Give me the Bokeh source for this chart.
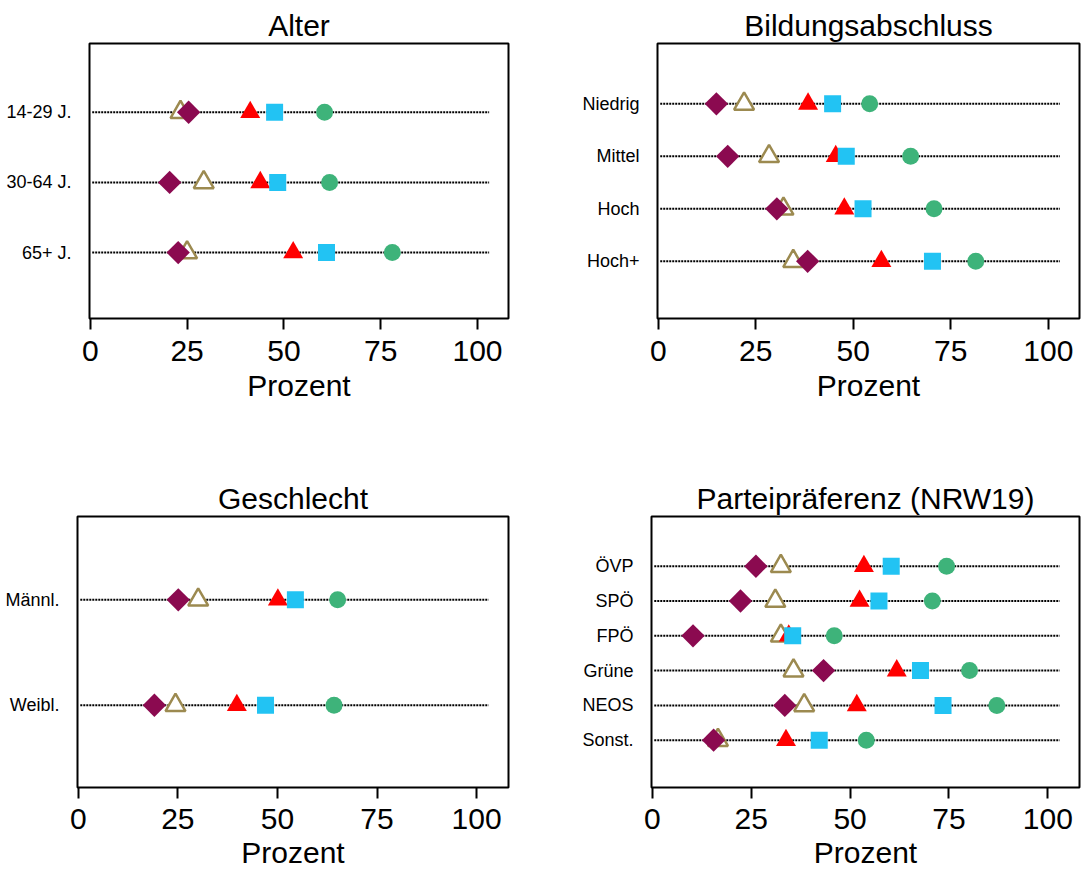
import math
from bokeh.plotting import figure
from bokeh.layouts import column, row
from bokeh.models import FixedTicker
from bokeh.embed import file_html
from bokeh.resources import INLINE

# ---------------- data ----------------
alter_cats = ["14-29 J.", "30-64 J.", "65+ J."]
alter_diamond = [25.4, 20.5, 22.7]
alter_open_tri = [23.3, 29.3, 25.0]
alter_red_tri = [41.3, 43.9, 52.4]
alter_square = [47.6, 48.4, 61.0]
alter_circle = [60.5, 61.8, 78.0]

bildung_cats = ["Niedrig", "Mittel", "Hoch", "Hoch+"]
bildung_diamond = [14.9, 17.8, 30.4, 38.3]
bildung_open_tri = [22.0, 28.4, 32.1, 34.6]
bildung_red_tri = [38.4, 45.5, 47.7, 57.2]
bildung_square = [44.7, 48.2, 52.5, 70.3]
bildung_circle = [54.2, 64.7, 70.7, 81.4]

geschlecht_cats = ["Männl.", "Weibl."]
geschlecht_diamond = [25.1, 19.1]
geschlecht_open_tri = [30.1, 24.4]
geschlecht_red_tri = [50.1, 39.8]
geschlecht_square = [54.5, 47.0]
geschlecht_circle = [65.1, 64.2]

partei_cats = ["ÖVP", "SPÖ", "FPÖ", "Grüne", "NEOS", "Sonst."]
partei_diamond = [26.2, 22.3, 10.3, 43.3, 33.5, 15.5]
partei_open_tri = [32.5, 31.1, 32.5, 35.7, 38.4, 16.6]
partei_red_tri = [53.5, 52.4, 34.5, 61.8, 51.7, 33.8]
partei_square = [60.4, 57.3, 35.5, 67.8, 73.5, 42.2]
partei_circle = [74.4, 70.8, 46.0, 80.2, 87.1, 54.1]

x_ticks = [0, 25, 50, 75, 100]

# ---------------- style ----------------
FONT = "Liberation Sans"
PURPLE = "#8B0A50"
OLIVE = "#9C8A50"
RED = "#FF0000"
CYAN = "#22C3F3"
GREEN = "#3EB37A"
X_RANGE = (-0.2, 108.0)
LINE_START, LINE_END = 0.5, 103.0


def make_panel(title, cats, diamond, open_tri, red_tri, square, circle,
               frame_w, frame_h, b_left, b_right, b_top, b_bottom, y_range,
               tick_standoff, label_standoff):
    n = len(cats)
    ypos = [n - i for i in range(n)]
    p = figure(frame_width=frame_w, frame_height=frame_h,
               x_range=X_RANGE, y_range=y_range,
               min_border_left=b_left, min_border_right=b_right,
               min_border_top=b_top, min_border_bottom=b_bottom,
               output_backend="svg", toolbar_location=None,
               title=title)
    p.background_fill_color = "white"
    p.border_fill_color = "white"
    p.outline_line_color = "black"
    p.outline_line_width = 2
    p.grid.visible = False

    p.title.text_font = FONT
    p.title.text_font_size = "30px"
    p.title.text_font_style = "normal"
    p.title.text_color = "black"
    p.title.align = "center"
    p.title.standoff = 3

    xa = p.xaxis[0]
    xa.ticker = FixedTicker(ticks=x_ticks)
    xa.axis_line_color = None
    xa.major_tick_line_width = 2
    xa.major_tick_line_color = "black"
    xa.major_tick_out = 11
    xa.major_tick_in = 0
    xa.minor_tick_line_color = None
    xa.major_label_text_font = FONT
    xa.major_label_text_font_size = "30px"
    xa.major_label_text_color = "black"
    xa.major_label_standoff = tick_standoff
    xa.axis_label = "Prozent"
    xa.axis_label_text_font = FONT
    xa.axis_label_text_font_size = "30px"
    xa.axis_label_text_font_style = "normal"
    xa.axis_label_text_color = "black"
    xa.axis_label_standoff = label_standoff

    ya = p.yaxis[0]
    ya.ticker = FixedTicker(ticks=ypos)
    ya.major_label_overrides = {y: c for y, c in zip(ypos, cats)}
    ya.axis_line_color = None
    ya.major_tick_line_color = None
    ya.minor_tick_line_color = None
    ya.major_label_text_font = FONT
    ya.major_label_text_font_size = "18px"
    ya.major_label_text_color = "black"
    ya.major_label_standoff = 12

    p.segment(x0=[LINE_START] * n, x1=[LINE_END] * n, y0=ypos, y1=ypos,
              line_color="black", line_width=2, line_dash="2 1")

    p.scatter(x=open_tri, y=ypos, marker="triangle", size=20,
              fill_color="white", line_color=OLIVE, line_width=2.5)
    p.scatter(x=diamond, y=ypos, marker="square", angle=math.pi / 4, size=16.5,
              fill_color=PURPLE, line_color=None)
    p.scatter(x=red_tri, y=ypos, marker="triangle", size=20,
              fill_color=RED, line_color=None)
    p.scatter(x=square, y=ypos, marker="square", size=17,
              fill_color=CYAN, line_color=None)
    p.scatter(x=circle, y=ypos, marker="circle", size=17,
              fill_color=GREEN, line_color=None)
    return p


p1 = make_panel("Alter", alter_cats, alter_diamond, alter_open_tri, alter_red_tri,
                alter_square, alter_circle,
                419, 275, 89, 40, 43, 148, (0.06, 3.98), 11, 5)
p2 = make_panel("Bildungsabschluss", bildung_cats, bildung_diamond, bildung_open_tri,
                bildung_red_tri, bildung_square, bildung_circle,
                422, 275, 109, 2, 43, 148, (-0.09, 5.15), 11, 5)
p3 = make_panel("Geschlecht", geschlecht_cats, geschlecht_diamond, geschlecht_open_tri,
                geschlecht_red_tri, geschlecht_square, geschlecht_circle,
                431, 271, 77, 40, 50, 84, (0.22, 2.79), 10, 4)
p4 = make_panel("Parteipräferenz (NRW19)", partei_cats, partei_diamond, partei_open_tri,
                partei_red_tri, partei_square, partei_circle,
                428, 271, 103, 2, 50, 84, (-0.36, 7.43), 10, 4)

layout = column(row(p1, p2), row(p3, p4))
open("out.html", "w").write(file_html(layout, INLINE))
